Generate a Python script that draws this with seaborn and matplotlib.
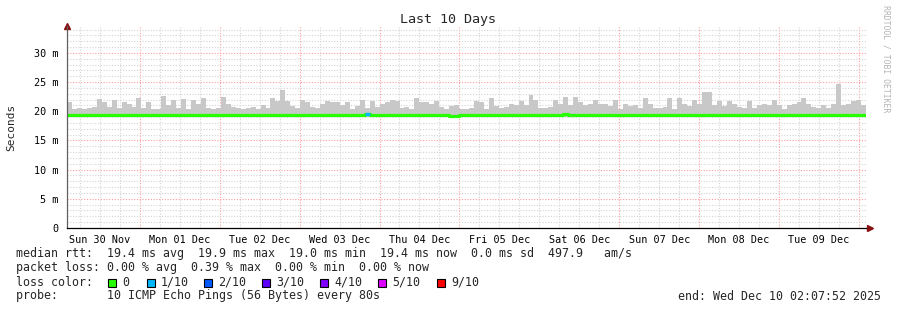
import matplotlib
matplotlib.use('Agg')
import matplotlib.pyplot as plt
from matplotlib.patches import Rectangle
import numpy as np
import pandas as pd
import seaborn as sns

# smokeping style "Last 10 Days" graph (ms)
DAY_LABELS = ['Sun 30 Nov', 'Mon 01 Dec', 'Tue 02 Dec', 'Wed 03 Dec', 'Thu 04 Dec',
              'Fri 05 Dec', 'Sat 06 Dec', 'Sun 07 Dec', 'Mon 08 Dec', 'Tue 09 Dec']
START_HOUR = 2 + 7 / 60 + 52 / 3600   # graph starts Sun 30 Nov 02:07:52
SPAN_HOURS = 240

# upper edge of the smoke per ~5px column
smoke_max = [
    21.6, 20.4, 20.5, 20.4, 20.6, 20.8, 22.1, 21.6, 20.8, 21.9, 20.5, 21.5, 21.2, 20.8,
    22.2, 20.5, 21.6, 20.4, 20.4, 22.6, 21.0, 21.9, 20.6, 22.1, 20.4, 22.0, 21.3,
    22.2, 20.5, 20.4, 20.6, 22.4, 21.3, 20.7, 20.6, 20.4, 20.6, 20.8, 20.4, 21.0, 20.5,
    22.2, 21.7, 23.6, 21.7, 20.9, 20.5, 21.9, 21.6, 20.7, 20.6, 21.3, 21.7, 21.5,
    21.6, 21.0, 21.5, 20.4, 20.9, 21.9, 20.6, 21.7, 20.8, 21.3, 21.6, 21.9, 21.8, 20.5,
    20.8, 20.4, 22.3, 21.6, 21.6, 21.3, 21.7, 20.7, 20.4, 20.9, 21.0, 20.4, 20.3,
    20.5, 21.7, 21.6, 20.4, 22.2, 20.9, 20.6, 20.7, 21.3, 21.0, 21.7, 21.0, 22.8, 21.9,
    20.6, 20.5, 20.7, 21.9, 21.3, 22.4, 21.0, 22.5, 21.6, 21.0, 21.3, 21.9, 21.3,
    21.3, 20.9, 21.9, 20.4, 21.3, 20.9, 21.0, 20.6, 22.2, 21.3, 20.5, 20.6, 20.7, 22.2,
    20.4, 22.2, 21.3, 20.9, 21.9, 21.3, 23.3, 23.3, 21.0, 21.7, 20.9, 21.7, 21.3,
    20.7, 20.6, 21.7, 20.5, 21.0, 21.3, 21.0, 21.9, 21.0, 20.4, 21.0, 21.3, 21.6, 22.2,
    21.3, 20.7, 20.6, 21.0, 20.5, 21.3, 24.6, 21.0, 21.3, 21.7, 22.0, 21.0,
]
smoke_min = 19.05

# median rtt per column
median_rtt = [
    19.4, 19.4, 19.4, 19.4, 19.4, 19.4, 19.4, 19.4, 19.4, 19.4, 19.4, 19.4, 19.4, 19.4,
    19.4, 19.4, 19.4, 19.4, 19.4, 19.4, 19.4, 19.4, 19.4, 19.4, 19.4, 19.4, 19.4,
    19.4, 19.4, 19.4, 19.4, 19.4, 19.4, 19.4, 19.4, 19.4, 19.4, 19.4, 19.4, 19.4, 19.4,
    19.4, 19.4, 19.4, 19.4, 19.4, 19.4, 19.4, 19.4, 19.4, 19.4, 19.4, 19.4, 19.4,
    19.4, 19.4, 19.4, 19.4, 19.4, 19.4, 19.5, 19.4, 19.4, 19.4, 19.4, 19.4, 19.4, 19.4,
    19.4, 19.4, 19.4, 19.4, 19.4, 19.4, 19.4, 19.4, 19.4, 19.2, 19.2, 19.4, 19.4,
    19.4, 19.4, 19.4, 19.4, 19.4, 19.4, 19.4, 19.4, 19.4, 19.4, 19.4, 19.4, 19.4, 19.4,
    19.4, 19.4, 19.4, 19.4, 19.4, 19.5, 19.4, 19.4, 19.4, 19.4, 19.4, 19.4, 19.4,
    19.4, 19.4, 19.4, 19.4, 19.4, 19.4, 19.4, 19.4, 19.4, 19.4, 19.4, 19.4, 19.4, 19.4,
    19.4, 19.4, 19.4, 19.4, 19.4, 19.4, 19.4, 19.4, 19.4, 19.4, 19.4, 19.3, 19.4,
    19.4, 19.4, 19.4, 19.4, 19.4, 19.4, 19.4, 19.4, 19.4, 19.4, 19.4, 19.4, 19.4, 19.4,
    19.4, 19.4, 19.4, 19.4, 19.4, 19.4, 19.4, 19.4, 19.4, 19.4, 19.4, 19.4,
]

# columns with packet loss (column index, lost pings out of 10)
loss_cols = [60]
loss_tenths = [1]

loss_labels = ['0', '1/10', '2/10', '3/10', '4/10', '5/10', '9/10']
loss_colors = ['#26ff00', '#00b8ff', '#0059ff', '#5e00ff', '#7e00ff', '#dd00ff', '#ff0000']
loss_steps = [0, 1, 2, 3, 4, 5, 9]

stats_line = 'median rtt:  19.4 ms avg  19.9 ms max  19.0 ms min  19.4 ms now  0.0 ms sd  497.9   am/s'
loss_line = 'packet loss: 0.00 % avg  0.39 % max  0.00 % min  0.00 % now'
probe_line = 'probe:       10 ICMP Echo Pings (56 Bytes) every 80s'
end_line = 'end: Wed Dec 10 02:07:52 2025'


def main():
    sns.set_style('white')
    plt.rcParams['font.family'] = ['DejaVu Sans Mono']

    W, H = 897, 310
    fig = plt.figure(figsize=(W / 100, H / 100), dpi=100)
    fig.patch.set_facecolor('white')
    ax = fig.add_axes([67 / W, (H - 228) / H, (866 - 67) / W, (228 - 26) / H])

    n = len(smoke_max)
    edges = np.linspace(0, SPAN_HOURS, n + 1)

    # grid: light red at day boundaries / every 5 ms, light gray otherwise
    first_midnight = 24 - START_HOUR
    for h in np.arange(first_midnight - 18, SPAN_HOURS, 6):
        if h <= 0:
            continue
        is_day = abs((h - first_midnight) % 24) < 1e-6
        ax.axvline(h, color='#ff9c9c' if is_day else '#d4d4d4',
                   lw=0.8, ls=(0, (1, 1.5)), zorder=0)
    for v in range(1, 35):
        ax.axhline(v, color='#ff9c9c' if v % 5 == 0 else '#d4d4d4',
                   lw=0.8, ls=(0, (1, 1.5)), zorder=0)

    # smoke
    top = np.append(smoke_max, smoke_max[-1])
    ax.fill_between(edges, smoke_min, top, step='post', color='#c8c8c8', lw=0, zorder=1)

    # median line
    df = pd.DataFrame({'hours': edges, 'median': np.append(median_rtt, median_rtt[-1])})
    sns.lineplot(data=df, x='hours', y='median', drawstyle='steps-post',
                 color=loss_colors[0], lw=2.3, ax=ax, zorder=2)
    for col, lost in zip(loss_cols, loss_tenths):
        c = loss_colors[loss_steps.index(lost)]
        ax.plot(edges[col:col + 2], [median_rtt[col]] * 2, color=c, lw=2.3,
                solid_capstyle='butt', zorder=3)

    ax.set_xlim(0, SPAN_HOURS)
    ax.set_ylim(0, 34.6)
    ax.set_xlabel('')
    ax.set_ylabel('')

    yt = [0, 5, 10, 15, 20, 25, 30]
    ax.set_yticks(yt, ['0'] + [f'{v} m' for v in yt[1:]])
    noons = [first_midnight - 12 + 24 * i for i in range(len(DAY_LABELS))]
    ax.set_xticks(noons, DAY_LABELS)
    ax.tick_params(axis='both', length=0, labelsize=7.3, colors='black')
    ax.tick_params(axis='x', pad=5)
    ax.tick_params(axis='y', pad=6)

    for s in ['top', 'right']:
        ax.spines[s].set_visible(False)
    ax.spines['left'].set_color('#606060')
    ax.spines['left'].set_linewidth(0.9)
    ax.spines['bottom'].set_color('black')
    ax.spines['bottom'].set_linewidth(0.9)
    ax.plot([0], [1.0], marker='^', ms=4, color='#8b1010', transform=ax.transAxes, clip_on=False)
    ax.plot([1.005], [0], marker='>', ms=4, color='#8b1010', transform=ax.transAxes, clip_on=False)

    fig.text(448 / W, 1 - 20 / H, 'Last 10 Days', ha='center', va='center', fontsize=9.6)
    fig.text(11 / W, 1 - 127 / H, 'Seconds', rotation=90, ha='center', va='center', fontsize=8)
    fig.text(886 / W, 1 - 5 / H, 'RRDTOOL / TOBI OETIKER', rotation=270, ha='center',
             va='top', fontsize=5.9, color='#b4b4b4')

    fs = 8.4
    fig.text(16 / W, 1 - 254 / H, stats_line, va='center', fontsize=fs)
    fig.text(16 / W, 1 - 268 / H, loss_line, va='center', fontsize=fs)
    fig.text(16 / W, 1 - 282 / H, 'loss color:', va='center', fontsize=fs)
    sq_x = [108, 147, 204, 262, 320, 378, 437]
    for x0, lab, c in zip(sq_x, loss_labels, loss_colors):
        fig.patches.append(Rectangle((x0 / W, 1 - 286.5 / H), 8 / W, 8 / H,
                                     transform=fig.transFigure, facecolor=c,
                                     edgecolor='black', lw=0.8))
        fig.text((x0 + 14) / W, 1 - 282 / H, lab, va='center', fontsize=fs)
    fig.text(16 / W, 1 - 296 / H, probe_line, va='center', fontsize=fs)
    fig.text(881 / W, 1 - 296 / H, end_line, ha='right', va='center', fontsize=fs)

    fig.savefig('out.png', dpi=100, facecolor='white')
    plt.close(fig)


if __name__ == '__main__':
    main()
